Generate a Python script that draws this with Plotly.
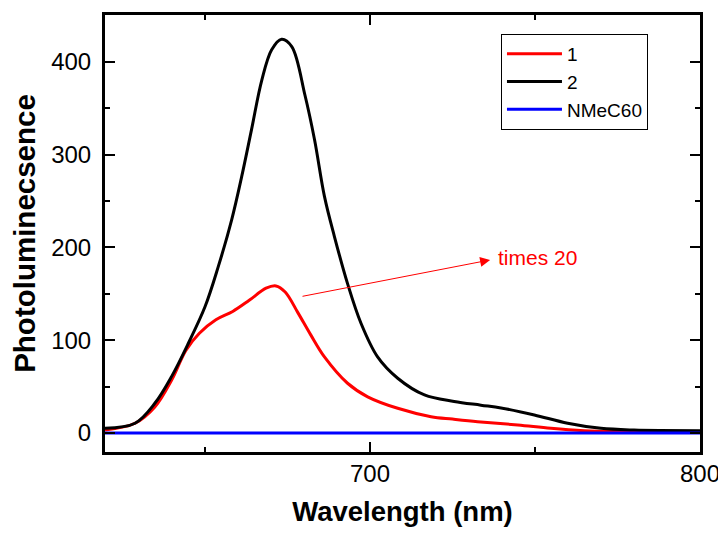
import plotly.graph_objects as go

# Data
wl_2 = [619.7, 628.8, 634.8, 639.9, 645, 650, 654, 658.1, 661.1, 664.1, 667.2, 670.2, 673.2, 676.3, 680.3, 683.2,
        686.2, 689.2, 693.2, 697.3, 702.3, 708.4, 716.5, 725.5, 733.6, 739.7, 749.8, 759.9, 770, 780, 800]
pl_2 = [5, 10.5, 32, 61, 97, 136, 179, 230, 276, 327, 380, 413, 424.4, 416.5, 364, 316,
        255, 212, 161, 118, 82, 59, 41, 34, 30, 27, 19.4, 10.5, 5, 3.2, 2.5]

wl_1 = [619.7, 628.8, 634.8, 639.9, 644.2, 648.3, 653.3, 658.4, 663.4, 668.5, 671.5, 674.3, 678.1, 682, 686.2,
        693.2, 699.3, 708.4, 718.5, 725, 732.6, 744.8, 754.8, 764.9, 775, 800]
pl_1 = [3.2, 10.5, 28, 57, 89, 107.5, 122, 131, 143, 156, 158.5, 152, 130, 106, 82,
        53.6, 39, 26.6, 17.6, 15, 12.2, 8.6, 5, 2.5, 1.5, 1]

wl_c60 = [619.7, 800]
pl_c60 = [0, 0]

annot_tail = (679.1, 147)
annot_head = (736.4, 186.5)
annot_text = "times 20"

x_ticks = [700, 800]
y_ticks = [0, 100, 200, 300, 400]

FONT = "Liberation Sans, Arial, sans-serif"

fig = go.Figure()
fig.add_trace(go.Scatter(x=wl_1, y=pl_1, mode="lines", name="1",
                         line=dict(color="#ff0000", width=3, shape="spline", smoothing=1.0)))
fig.add_trace(go.Scatter(x=wl_2, y=pl_2, mode="lines", name="2",
                         line=dict(color="#000000", width=3, shape="spline", smoothing=1.0)))
fig.add_trace(go.Scatter(x=wl_c60, y=pl_c60, mode="lines", name="NMeC60",
                         line=dict(color="#0000ff", width=3)))

fig.add_annotation(x=annot_head[0], y=annot_head[1], ax=annot_tail[0], ay=annot_tail[1],
                   xref="x", yref="y", axref="x", ayref="y", text="",
                   showarrow=True, arrowhead=2, arrowsize=2, arrowwidth=1, arrowcolor="#ff0000")
fig.add_annotation(x=annot_head[0] + 1.8, y=annot_head[1] + 3, xref="x", yref="y", text=annot_text,
                   showarrow=False, xanchor="left", yanchor="middle",
                   font=dict(color="#ff0000", size=21, family=FONT))

axis_common = dict(showline=True, linecolor="black", linewidth=3, mirror="ticks",
                   ticks="inside", ticklen=10, tickwidth=2, tickcolor="black",
                   showgrid=False, zeroline=False, automargin=False,
                   tickfont=dict(size=24, family=FONT, color="black"))

fig.update_xaxes(range=[619.7, 800], tickvals=x_ticks, ticklabelstandoff=-2,
                 minor=dict(ticks="inside", ticklen=5, tickwidth=2, tickcolor="black", dtick=50, tick0=0),
                 title=dict(text="<b>Wavelength (nm)</b>", font=dict(size=27.5, family=FONT, color="black"), standoff=16),
                 **axis_common)
fig.update_yaxes(range=[-20.5, 450.5], tickvals=y_ticks, ticklabelstandoff=6,
                 minor=dict(ticks="inside", ticklen=5, tickwidth=2, tickcolor="black", dtick=50, tick0=0),
                 title=dict(text="<b>Photoluminecsence</b>", font=dict(size=29.5, family=FONT, color="black"), standoff=13),
                 **axis_common)

# page body has an 8px margin; compensate so the plot area lands where the reference's does
fig.update_layout(
    width=718, height=526,
    margin=dict(l=97, r=26, t=7, b=82),
    plot_bgcolor="white", paper_bgcolor="white",
    legend=dict(x=0.6655, y=0.9565, xanchor="left", yanchor="top",
                bordercolor="black", borderwidth=1, bgcolor="white",
                font=dict(size=19, family=FONT, color="black"),
                tracegroupgap=0, itemwidth=55),
    showlegend=True,
)

fig.write_html("out.html")
